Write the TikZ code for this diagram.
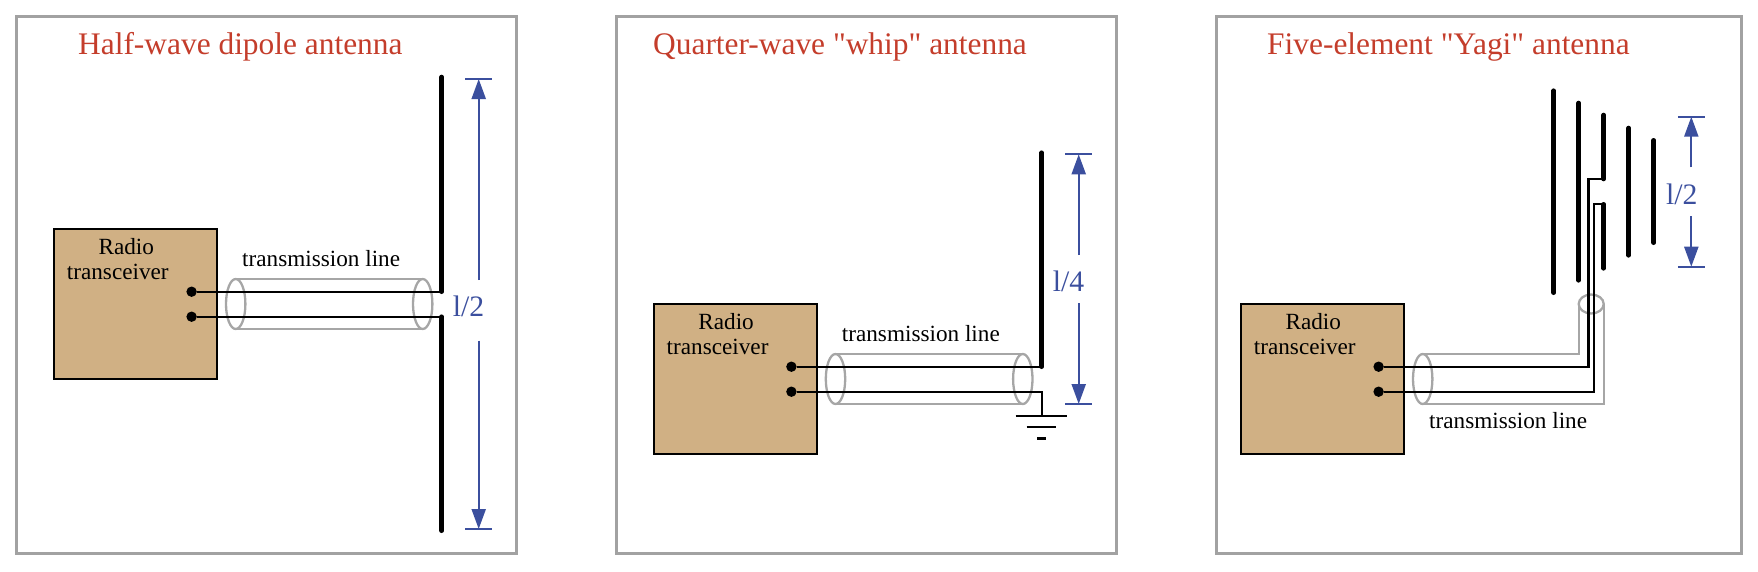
\documentclass[tikz,border=0pt]{standalone}
\usepackage{fontspec}
\setmainfont{Liberation Serif}[Ligatures=TeXOff]
\usetikzlibrary{arrows.meta,shapes.geometric}

\definecolor{framegray}{HTML}{A2A2A2}
\definecolor{cablegray}{HTML}{A6A6A6}
\definecolor{titlered}{HTML}{C43D2B}
\definecolor{dimblue}{HTML}{3B4F9E}
\definecolor{boxtan}{HTML}{D0B084}

\tikzset{
    frame/.style={draw=framegray, line width=3.5pt, rectangle, inner sep=0pt, outer sep=0pt},
    title/.style={text=titlered, anchor=base west, inner sep=0pt, font=\fontsize{31.4}{36}\selectfont},
    radiobox/.style={draw=black, line width=2pt, rectangle, fill=boxtan, outer sep=0pt, minimum width=163pt, minimum height=150pt},
    radiotext/.style={anchor=base west, inner sep=0pt, align=left, font=\fontsize{23.2}{25}\selectfont},
    linetext/.style={anchor=base west, inner sep=0pt, font=\fontsize{23.2}{26}\selectfont},
    terminal/.style={circle, fill=black, inner sep=0pt, minimum size=10.4pt},
    cableend/.style={draw=cablegray, line width=2.3pt, ellipse, inner sep=0pt, outer sep=0pt},
    cable/.style={draw=cablegray, line width=2.3pt},
    wire/.style={draw=black, line width=2.2pt},
    element/.style={draw=black, line width=4.6pt, line cap=round},
    dimline/.style={draw=dimblue, line width=2.2pt},
    dimtext/.style={text=dimblue, anchor=base west, inner sep=0pt, font=\fontsize{29.7}{34}\selectfont}
}

\begin{document}
\begin{tikzpicture}[x=1pt, y=-1pt]
    \useasboundingbox (0,0) rectangle (1758,571);

    % panels and titles
    \node[name=frame_a, frame, minimum width=500pt, minimum height=537pt] at (266.7,285.2) {};
    \node[name=frame_b, frame, minimum width=500.2pt, minimum height=537pt] at (866.6,285.2) {};
    \node[name=frame_c, frame, minimum width=524.6pt, minimum height=537pt] at (1479,285.2) {};
    \node[name=title_a, title] at (78,54) {Half-wave dipole antenna};
    \node[name=title_b, title] at (653,54) {Quarter-wave "whip" antenna};
    \node[name=title_c, title] at (1267,54) {Five-element "Yagi" antenna};

    % transceiver boxes with the cable start
    \foreach \p/\x/\y in {a/54/229.3, b/653.8/304.3, c/1241/304.3}
        {
            \node[name=box_\p, radiobox, anchor=north west] at (\x,\y) {};
            \node[name=text_\p, radiotext] at (\x+12.7,\y+50) {\hspace*{31.7pt}Radio\\transceiver};
            \node[name=start_\p, cableend, minimum width=19.4pt, minimum height=50pt] at (\x+181.7,\y+74.7) {};
            \node[name=hot_\p, terminal] at (\x+137.6,\y+62.4) {};
            \node[name=cold_\p, terminal] at (\x+137.6,\y+87.4) {};
        }

    % straight cables
    \foreach \p/\x in {a/422.7, b/1022.8}
        {
            \node[name=stop_\p, cableend, minimum width=19.4pt, minimum height=50pt] at (\x,0 |- start_\p) {};
            \draw[cable] (start_\p.north) -- (stop_\p.north);
            \draw[cable] (start_\p.south) -- (stop_\p.south);
        }

    % bent cable of the yagi
    \node[name=stop_c, cableend, minimum width=25pt, minimum height=19pt] at (1591.2,304) {};
    \draw[cable] (start_c.north) -| (stop_c.west);
    \draw[cable] (start_c.south) -| (stop_c.east);

    \node[name=line_a, linetext] at (242,266.7) {transmission line};
    \node[name=line_b, linetext] at (841.7,341.7) {transmission line};
    \node[name=line_c, linetext] at (1429,428.3) {transmission line};

    % dipole
    \coordinate (dip_1) at (441.7,77);
    \coordinate (dip_2) at (441.7,291.7);
    \coordinate (dip_3) at (441.7,316.7);
    \coordinate (dip_4) at (441.7,530.7);
    \draw[wire] (hot_a) -- (dip_2);
    \draw[wire] (cold_a) -- (dip_3);
    \draw[element] (dip_1) -- (dip_2);
    \draw[element] (dip_3) -- (dip_4);

    % whip and ground
    \coordinate (whip_1) at (1041.7,152.7);
    \coordinate (whip_2) at (1041.7,366.7);
    \coordinate (gnd_0) at (1041.7,416);
    \coordinate (gnd_1) at (1015.7,416);
    \coordinate (gnd_2) at (1067.3,416);
    \coordinate (gnd_3) at (1026.7,427.3);
    \coordinate (gnd_4) at (1056,427.3);
    \coordinate (gnd_5) at (1037.3,438.3);
    \coordinate (gnd_6) at (1045.7,438.3);
    \draw[wire] (hot_b) -- (whip_2);
    \draw[element] (whip_1) -- (whip_2);
    \draw[wire] (cold_b) -| (gnd_0);
    \draw[wire] (gnd_1) -- (gnd_2);
    \draw[wire] (gnd_3) -- (gnd_4);
    \draw[wire, line width=2.8pt] (gnd_5) -- (gnd_6);

    % yagi elements
    \foreach \n/\x/\t/\b in {1/1553.7/90.7/292.7, 2/1578.7/103/280.3, 3/1603.7/115/179, 4/1603.7/204.3/268.3, 5/1628.7/128/255.3, 6/1653.7/140.3/242.7}
        {
            \coordinate (yagi_\n_t) at (\x,\t);
            \coordinate (yagi_\n_b) at (\x,\b);
            \draw[element] (yagi_\n_t) -- (yagi_\n_b);
        }
    \coordinate (feed_1) at (1588.5,179);
    \coordinate (feed_2) at (1594.3,204.3);
    \draw[wire] (hot_c) -| (feed_1) -- (yagi_3_b);
    \draw[wire] (cold_c) -| (feed_2) -- (yagi_4_t);

    % wavelength marks
    \foreach \n/\lab/\x/\t/\b/\gt/\gb/\lx/\ly in {a/l\slash 2/478.7/79/529/280/340.7/452.7/316.7, b/l\slash 4/1078.7/154.3/404/255/303.3/1052.7/291.7, c/l\slash 2/1691.3/116.7/266.7/167.3/216/1666/204.3}
        {
            \coordinate (tt_\n) at (\x,\t);
            \coordinate (tb_\n) at (\x,\b);
            \coordinate (gt_\n) at (\x,\gt);
            \coordinate (gb_\n) at (\x,\gb);
            \draw[dimline] ([xshift=-13.5pt]tt_\n) -- ([xshift=13.5pt]tt_\n);
            \draw[dimline] ([xshift=-13.5pt]tb_\n) -- ([xshift=13.5pt]tb_\n);
            \draw[dimline, -{Triangle[length=20pt, width=14pt]}] (gt_\n) -- (tt_\n);
            \draw[dimline, -{Triangle[length=20pt, width=14pt]}] (gb_\n) -- (tb_\n);
            \node[name=wave_\n, dimtext] at (\lx,\ly) {\lab};
        }
\end{tikzpicture}
\end{document}
